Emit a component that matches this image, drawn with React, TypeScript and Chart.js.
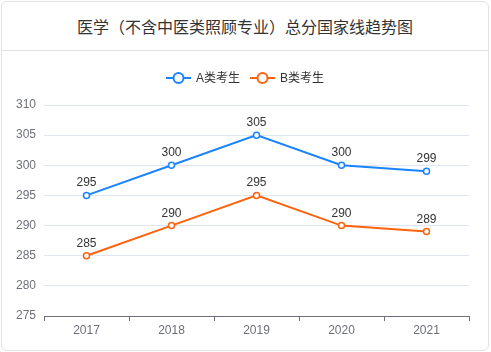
import React, { useEffect, useRef } from "react";
import { Chart, registerables } from "chart.js";

Chart.register(...registerables);

const chartTitle = "医学（不含中医类照顾专业）总分国家线趋势图";
const categories = ["2017", "2018", "2019", "2020", "2021"];
const seriesNames = ["A类考生", "B类考生"];
const seriesA = [295, 300, 305, 300, 299];
const seriesB = [285, 290, 295, 290, 289];
const seriesColors = ["#1a84ff", "#ff620d"];
const yMin = 275;
const yMax = 310;
const yStep = 5;

const FONT = "Helvetica, Arial, 'Liberation Sans', 'Noto Sans CJK SC', sans-serif";

const legendPlugin = {
  id: "customLegend",
  afterDraw(chart: any) {
    const ctx = chart.ctx as CanvasRenderingContext2D;
    ctx.save();
    ctx.font = `12px ${FONT}`;
    const iconW = 25;
    const textGap = 5;
    const itemGap = 10;
    const ds = chart.data.datasets;
    const widths = ds.map((d: any) => iconW + textGap + ctx.measureText(d.label).width);
    const total = widths.reduce((a: number, b: number) => a + b, 0) + itemGap * (widths.length - 1);
    let x = (chart.width - total) / 2 + 1;
    const y = 27;
    ds.forEach((d: any, i: number) => {
      const c = d.borderColor;
      ctx.strokeStyle = c;
      ctx.lineWidth = 2;
      ctx.beginPath();
      ctx.moveTo(x, y);
      ctx.lineTo(x + iconW, y);
      ctx.stroke();
      ctx.beginPath();
      ctx.arc(x + iconW / 2, y, 5, 0, Math.PI * 2);
      ctx.fillStyle = "#fff";
      ctx.fill();
      ctx.stroke();
      ctx.fillStyle = "#333";
      ctx.textAlign = "left";
      ctx.textBaseline = "middle";
      ctx.fillText(d.label, x + iconW + textGap, y + 1);
      x += widths[i] + itemGap;
    });
    ctx.restore();
  },
};

const valueLabelPlugin = {
  id: "valueLabels",
  afterDatasetsDraw(chart: any) {
    const ctx = chart.ctx as CanvasRenderingContext2D;
    ctx.save();
    ctx.font = `12px ${FONT}`;
    ctx.fillStyle = "#333";
    ctx.textAlign = "center";
    ctx.textBaseline = "alphabetic";
    chart.data.datasets.forEach((d: any, di: number) => {
      const meta = chart.getDatasetMeta(di);
      meta.data.forEach((pt: any, i: number) => {
        ctx.fillText(String(d.data[i]), pt.x, pt.y - 9);
      });
    });
    ctx.restore();
  },
};

export default function App() {
  const canvasRef = useRef<HTMLCanvasElement | null>(null);

  useEffect(() => {
    document.body.style.margin = "0";
    const canvas = canvasRef.current;
    if (!canvas) return;
    const chart = new Chart(canvas, {
      type: "line",
      data: {
        labels: categories,
        datasets: [seriesA, seriesB].map((vals, i) => ({
          label: seriesNames[i],
          data: vals,
          borderColor: seriesColors[i],
          backgroundColor: seriesColors[i],
          borderWidth: 2,
          pointRadius: 3,
          pointBorderWidth: 1.5,
          pointBackgroundColor: "#fff",
          pointBorderColor: seriesColors[i],
          tension: 0,
          fill: false,
        })),
      },
      options: {
        animation: false,
        responsive: false,
        devicePixelRatio: 1,
        layout: { padding: { top: 54, right: 19, bottom: 0, left: 0 } },
        plugins: {
          legend: { display: false },
          title: { display: false },
          tooltip: { enabled: false },
        },
        scales: {
          x: {
            type: "category",
            offset: true,
            grid: {
              display: true,
              offset: true,
              drawOnChartArea: false,
              drawTicks: true,
              tickLength: 5,
              color: "#6e7079",
            },
            border: { display: true, color: "#6e7079", width: 1 },
            ticks: {
              color: "#6e7079",
              font: { size: 12, family: FONT },
              padding: 2,
              maxRotation: 0,
            },
            afterFit: (s: any) => {
              s.height = 34;
            },
          },
          y: {
            min: yMin,
            max: yMax,
            ticks: {
              stepSize: yStep,
              color: "#6e7079",
              font: { size: 12, family: FONT },
              padding: 8,
            },
            grid: { color: "#e0e6f1", drawTicks: false },
            border: { display: false },
            afterFit: (s: any) => {
              s.width = 44;
            },
          },
        },
      },
      plugins: [legendPlugin, valueLabelPlugin],
    });
    return () => chart.destroy();
  }, []);

  return (
    <div style={{ position: "relative", width: 491, height: 352, fontFamily: FONT }}>
      <div
        style={{
          position: "absolute",
          left: 1,
          top: 1,
          width: 488,
          height: 350,
          boxSizing: "border-box",
          border: "1px solid #e2e2e2",
          borderRadius: 6,
          background: "#fff",
        }}
      >
        <div
          style={{
            height: 48,
            lineHeight: "52px",
            borderBottom: "1px solid #e2e2e2",
            textAlign: "center",
            fontSize: 16,
            color: "#333",
          }}
        >
          {chartTitle}
        </div>
      </div>
      <div style={{ position: "absolute", left: 0, top: 51, width: 488, height: 299 }}>
        <canvas ref={canvasRef} width={488} height={299} style={{ display: "block" }} />
      </div>
    </div>
  );
}
